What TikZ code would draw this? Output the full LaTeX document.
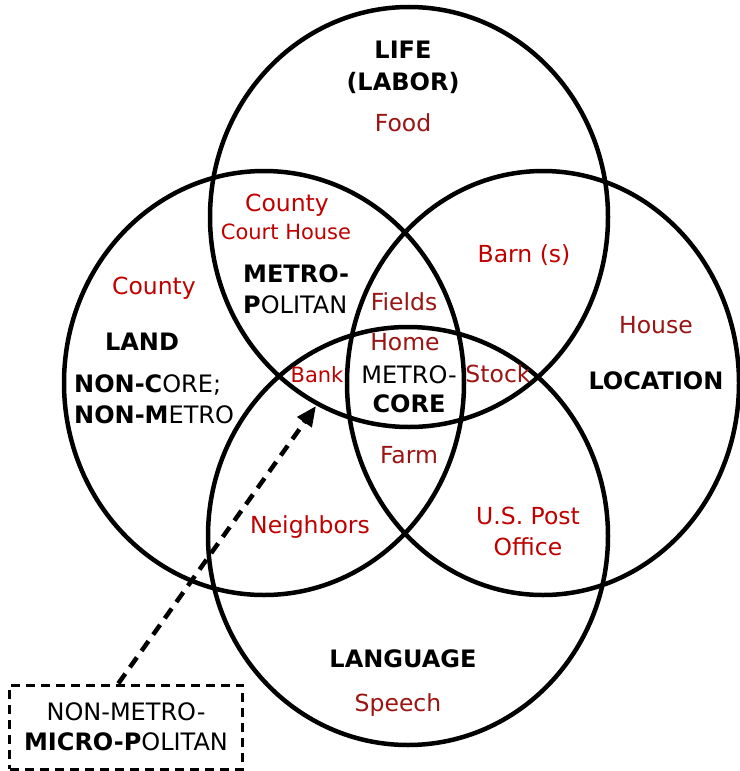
\documentclass[tikz,border=0pt]{standalone}
\usepackage{fontspec}
\setmainfont{DejaVu Sans}
\usetikzlibrary{arrows.meta}
\definecolor{redtxt}{RGB}{192,0,0}
\definecolor{maroontxt}{RGB}{155,20,20}

\begin{document}
\begin{tikzpicture}[x = 1pt, y = -1pt,
    ring/.style = {line width = 4.5pt},
    word/.style = {font = \fontsize{24}{31}\selectfont, inner sep = 0pt, align = center},
    item/.style = {word, font = \fontsize{23.5}{30}\selectfont, text height = 17pt, text depth = 5pt},
    small/.style = {item, font = \fontsize{21}{28}\selectfont},
    head/.style = {word, font = \fontsize{24}{32}\selectfont\bfseries}]
    \fill[white] (0,0) rectangle (739,771);
    \useasboundingbox (0,0) rectangle (739,771);
    % the four rings
    \draw[ring] (409,217) ellipse [x radius = 199, y radius = 210];
    \draw[ring] (264,383) ellipse [x radius = 200, y radius = 212];
    \draw[ring] (543,383) ellipse [x radius = 196, y radius = 212];
    \draw[ring] (408,536) ellipse [x radius = 200, y radius = 209];
    % Labels
    \node[head] (life) at (403,67) {LIFE\\(LABOR)};
    \node[head, text height = 17pt, text depth = 5pt] (land) at (142,344) {LAND};
    \node[head, text height = 17pt, text depth = 5pt] (location) at (656,383) {LOCATION};
    \node[head, text height = 17pt, text depth = 5pt] (language) at (403,661) {LANGUAGE};
    \node[word, anchor = west, align = left] (metro) at (243,289) {\textbf{METRO-}\\\textbf{P}OLITAN};
    \node[word, anchor = west, align = left] (noncore) at (74,399) {\textbf{NON-C}ORE;\\\textbf{NON-M}ETRO};
    \node[word, font = \fontsize{24}{29}\selectfont] (core) at (409,389) {METRO-\\\textbf{CORE}};
    % items
    \node[item, maroontxt] (food) at (403,125) {Food};
    \node[item, redtxt] (county) at (287,205) {County};
    \node[small, redtxt] (court) at (286,233) {Court House};
    \node[item, redtxt] (county2) at (154,288) {County};
    \node[item, redtxt] (barn) at (524,256) {Barn (s)};
    \node[item, maroontxt] (fields) at (404,304) {Fields};
    \node[item, maroontxt] (house) at (656,327) {House};
    \node[item, maroontxt] (home) at (405,344) {Home};
    \node[small, redtxt] (bank) at (317,376) {Bank};
    \node[item, maroontxt] (stock) at (498,376) {Stock};
    \node[item, maroontxt] (farm) at (409,457) {Farm};
    \node[item, redtxt] (neighbors) at (310,527) {Neighbors};
    \node[word, redtxt, font = \fontsize{23.5}{31}\selectfont] (post) at (528,531) {U.S. Post\\Office};
    \node[item, maroontxt] (speech) at (398,705) {Speech};
    % micropolitan box
    \node[word, draw, line width = 3pt, dash pattern = on 9pt off 6pt, font = \fontsize{24}{30}\selectfont,
      minimum width = 233pt, minimum height = 84pt] (micro) at (126,727)
      {NON-METRO-\\\textbf{MICRO-P}OLITAN};
    \coordinate (tip) at (316,406);
    \draw[line width = 4.5pt, dash pattern = on 12pt off 8pt, -{Triangle[length = 20pt, width = 17pt]}]
      (micro.100) -- (tip);
\end{tikzpicture}
\end{document}
